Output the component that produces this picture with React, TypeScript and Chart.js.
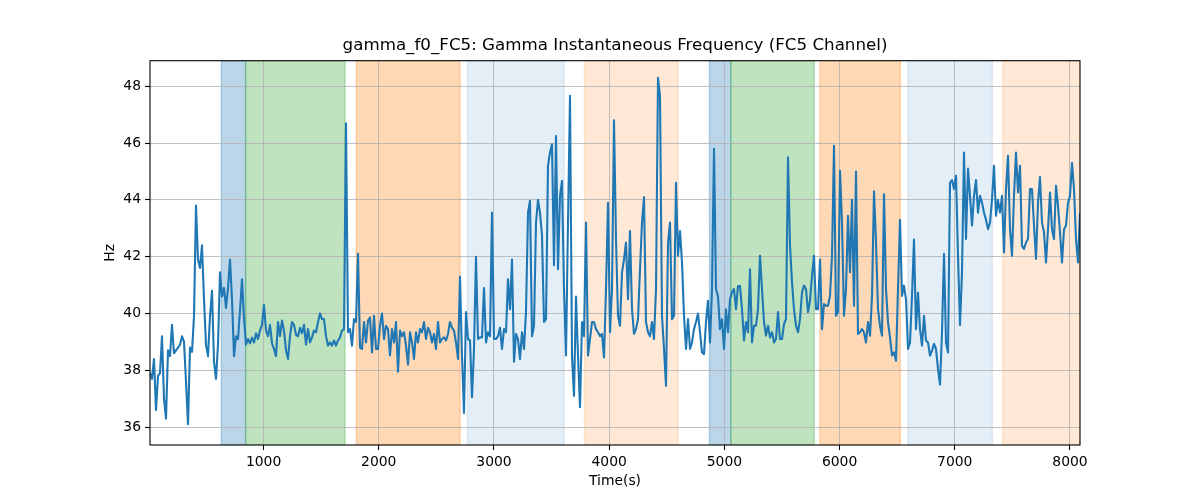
import { useEffect, useRef } from "react";
import { Chart, registerables } from "chart.js";
import type { Plugin } from "chart.js";

Chart.register(...registerables);

const chartTitle = "gamma_f0_FC5: Gamma Instantaneous Frequency (FC5 Channel)";
const xAxisLabel = "Time(s)";
const yAxisLabel = "Hz";

// readings are evenly spaced in time between the first and the last sample
const timeStart = 14;
const timeEnd = 8087;

const gammaHz = [
  // 14 - 1370 s
  37.9, 37.7, 38.4, 36.6, 37.8, 37.9, 39.2, 37.0, 36.3, 38.7, 38.5, 39.6, 38.6, 38.7, 38.8, 38.9,
  39.2, 39.0, 37.6, 36.1, 38.8, 38.65, 39.9, 43.8, 41.9, 41.6, 42.4, 40.5, 38.9, 38.5, 39.9, 40.8,
  38.3, 37.7, 38.9, 41.45, 40.6, 40.9, 40.2, 40.9, 41.9, 40.5, 38.5, 39.2, 39.1, 40.1, 41.2, 39.8,
  38.9, 39.1, 38.95, 39.15, 38.98, 39.3, 39.1, 39.4, 39.6, 40.3, 39.4, 39.2, 39.6, 38.95, 38.75,
  38.5, 39.7, 39.2, 39.75, 39.4, 38.7, 38.4, 39.2, 39.7, 39.6, 39.25, 39.2, 39.5, 39.3, 39.6, 38.9,
  // 1370 - 2710 s
  39.45, 38.98, 39.16, 39.4, 39.34, 39.7, 40.0, 39.8, 39.8, 39.2, 38.87, 38.98, 38.87, 39.05,
  38.87, 39.05, 39.16, 39.4, 39.45, 46.7, 39.34, 39.45, 38.87, 39.8, 39.7, 42.1, 38.8, 38.75,
  39.7, 38.98, 39.75, 39.86, 38.63, 39.92, 38.75, 38.75, 39.57, 40.0, 39.1, 39.57, 39.45, 38.52,
  39.45, 38.98, 39.7, 37.95, 39.4, 39.2, 39.34, 38.87, 38.2, 39.34, 38.98, 38.4, 39.34, 38.98,
  39.45, 39.34, 39.7, 39.1, 39.5, 39.34, 38.98, 39.28, 38.75, 39.7, 38.98, 39.1, 39.16, 39.05,
  39.28, 39.7, 39.5, 39.4, 38.98, 38.4, 41.3, 38.52,
  // 2710 - 4030 s
  36.5, 40.05, 39.1, 39.05, 37.05, 38.75, 42.0, 39.1, 39.16, 39.16, 40.9, 38.98, 39.34, 39.2,
  43.55, 39.1, 39.1, 39.2, 39.5, 38.75, 39.45, 39.34, 41.2, 40.15, 41.9, 38.3, 39.28, 39.1, 38.4,
  39.34, 38.75, 40.05, 43.55, 43.97, 39.2, 39.57, 43.2, 44.0, 43.55, 42.75, 39.7, 39.8, 45.2,
  45.67, 45.96, 41.7, 46.25, 41.56, 44.14, 44.67, 40.86, 38.52, 43.2, 47.66, 38.5, 37.1, 40.6,
  38.52, 36.7, 39.7, 39.2, 43.2, 38.52, 39.1, 39.7, 39.7, 39.45, 39.34, 39.2, 39.28, 38.45, 40.86,
  43.9, 39.34, 40.86, 46.8, 42.6,
  // 4030 - 5370 s
  39.92, 39.57, 41.45, 41.9, 42.5, 40.5, 42.9, 40.15, 39.28, 39.45, 39.8, 41.56, 43.2, 44.1, 39.7,
  39.34, 39.2, 39.7, 39.1, 40.86, 48.3, 47.66, 39.92, 38.75, 37.46, 42.5, 43.2, 39.8, 39.92, 44.6,
  42.03, 42.9, 41.8, 39.92, 38.75, 39.8, 38.75, 38.98, 39.45, 39.7, 40.0, 39.34, 38.63, 38.57,
  39.7, 40.45, 38.98, 40.86, 45.8, 40.86, 40.6, 39.45, 39.8, 38.75, 40.15, 39.34, 40.5, 40.75,
  40.86, 40.15, 40.97, 40.97, 40.15, 39.05, 39.7, 39.34, 41.56, 38.98, 39.57, 39.57, 40.15, 42.03,
  40.86, 39.7, 39.22, 39.57, 39.16, 39.34,
  // 5370 - 6700 s
  38.98, 39.1, 40.05, 39.1, 39.1, 39.63, 39.8, 45.5, 42.4, 41.1, 40.15, 39.57, 39.34, 39.8, 40.74,
  40.98, 40.86, 40.05, 40.45, 41.33, 42.03, 40.15, 40.15, 41.9, 39.45, 40.33, 40.27, 40.27, 40.62,
  42.03, 45.9, 39.92, 40.05, 45.02, 43.2, 39.92, 40.86, 43.44, 41.45, 44.0, 40.27, 45.0, 39.28,
  39.34, 39.45, 39.34, 38.98, 39.7, 39.22, 40.6, 44.3, 42.5, 40.15, 39.57, 39.22, 44.2, 40.86,
  39.7, 39.16, 38.52, 38.63, 38.34, 40.86, 43.3, 40.62, 40.98, 40.5, 38.75, 38.98, 40.62, 42.6,
  39.45, 40.74, 39.45, 38.87, 39.92, 39.05,
  // 6700 - 8087 s
  38.98, 38.52, 38.69, 38.93, 38.75, 38.05, 37.5, 39.34, 42.1, 38.98, 38.63, 44.6, 44.7, 44.38,
  44.85, 42.03, 39.6, 41.45, 45.67, 42.62, 45.1, 44.14, 43.1, 44.14, 44.7, 43.55, 44.14, 43.9,
  43.55, 43.3, 42.97, 43.2, 44.0, 45.2, 43.44, 44.0, 43.55, 44.14, 42.15, 44.38, 45.55, 42.96,
  42.03, 44.14, 45.67, 44.26, 45.2, 42.38, 42.27, 42.5, 42.62, 44.38, 44.38, 43.1, 41.92, 43.9,
  44.8, 43.2, 42.85, 41.8, 42.96, 44.26, 42.96, 42.62, 44.5, 43.8, 42.85, 41.8, 42.96, 43.1, 43.9,
  44.14, 45.3, 44.38, 42.62, 41.8, 43.55
];

const xTicks = [1000, 2000, 3000, 4000, 5000, 6000, 7000, 8000];
const yTicks = [36, 38, 40, 42, 44, 46, 48];
const yMin = 35.37;
const yMax = 48.9;

// shaded phases (seconds) and which kind each one is
const phaseStarts = [633, 844, 1805, 2769, 3785, 4871, 5056, 5829, 6593, 7416];
const phaseEnds = [844, 1707, 2706, 3609, 4599, 5056, 5780, 6527, 7326, 8087];
const phaseKinds = [0, 1, 2, 3, 4, 0, 1, 2, 3, 4];

const phaseFills = [
  "rgba(31, 119, 180, 0.3)",
  "rgba(44, 160, 44, 0.3)",
  "rgba(255, 127, 14, 0.3)",
  "rgba(31, 119, 180, 0.12)",
  "rgba(255, 127, 14, 0.17)"
];

const phasePlugin: Plugin<"line"> = {
  id: "phases",
  beforeDraw(chart) {
    const { ctx, chartArea, scales } = chart;
    const x = scales.x;
    ctx.save();
    ctx.beginPath();
    ctx.rect(chartArea.left, chartArea.top, chartArea.width, chartArea.height);
    ctx.clip();
    phaseStarts.forEach((start, i) => {
      const left = x.getPixelForValue(start);
      const right = x.getPixelForValue(phaseEnds[i]);
      const fill = phaseFills[phaseKinds[i]];
      ctx.fillStyle = fill;
      ctx.strokeStyle = fill;
      ctx.lineWidth = 1.4;
      ctx.fillRect(left, chartArea.top, right - left, chartArea.height);
      ctx.strokeRect(left, chartArea.top, right - left, chartArea.height);
    });
    ctx.restore();
  }
};

// frame on all four sides plus a title centred over the plot area
const framePlugin: Plugin<"line"> = {
  id: "frame",
  afterDraw(chart) {
    const { ctx, chartArea } = chart;
    ctx.save();
    ctx.strokeStyle = "#000";
    ctx.lineWidth = 1.1;
    ctx.strokeRect(chartArea.left, chartArea.top, chartArea.width, chartArea.height);
    ctx.fillStyle = "#000";
    ctx.font = "16.7px 'DejaVu Sans', sans-serif";
    ctx.textAlign = "center";
    ctx.textBaseline = "middle";
    ctx.fillText(chartTitle, (chartArea.left + chartArea.right) / 2, 46);
    ctx.restore();
  }
};

export default function App() {
  const canvasRef = useRef<HTMLCanvasElement | null>(null);

  useEffect(() => {
    document.body.style.margin = "0";
    const canvas = canvasRef.current;
    if (!canvas) return;

    Chart.defaults.font.family = "'DejaVu Sans', sans-serif";
    Chart.defaults.color = "#000";

    const step = (timeEnd - timeStart) / (gammaHz.length - 1);
    const points = gammaHz.map((hz, i) => ({ x: timeStart + i * step, y: hz }));

    const chart = new Chart(canvas, {
      type: "line",
      data: {
        datasets: [
          {
            label: "gamma_f0_FC5",
            data: points,
            borderColor: "#1f77b4",
            borderWidth: 2.1,
            borderJoinStyle: "round",
            pointRadius: 0,
            tension: 0
          }
        ]
      },
      options: {
        responsive: false,
        animation: false,
        events: [],
        layout: { padding: { left: 0, right: 120, top: 60.7, bottom: 0 } },
        plugins: {
          legend: { display: false },
          tooltip: { enabled: false },
          title: { display: false }
        },
        scales: {
          x: {
            type: "linear",
            min: timeStart,
            max: timeEnd,
            afterBuildTicks: (scale) => {
              scale.ticks = xTicks.map((value) => ({ value }));
            },
            afterFit: (scale) => {
              scale.height = 55;
            },
            ticks: {
              callback: (value) => String(value),
              font: { size: 13.9 },
              color: "#000",
              padding: 4,
              maxRotation: 0,
              autoSkip: false
            },
            grid: {
              color: "#b0b0b0",
              lineWidth: 0.8,
              drawTicks: true,
              tickLength: 5,
              tickColor: "#000",
              tickWidth: 1.1
            },
            border: { display: false },
            title: {
              display: true,
              text: xAxisLabel,
              color: "#000",
              font: { size: 13.9 },
              padding: { top: 0, bottom: 10.7 }
            }
          },
          y: {
            type: "linear",
            min: yMin,
            max: yMax,
            afterBuildTicks: (scale) => {
              scale.ticks = yTicks.map((value) => ({ value }));
            },
            afterFit: (scale) => {
              scale.width = 150;
            },
            ticks: {
              callback: (value) => String(value),
              font: { size: 13.9 },
              color: "#000",
              padding: 4
            },
            grid: {
              color: "#b0b0b0",
              lineWidth: 0.8,
              drawTicks: true,
              tickLength: 5,
              tickColor: "#000",
              tickWidth: 1.1
            },
            border: { display: false },
            title: {
              display: true,
              text: yAxisLabel,
              color: "#000",
              font: { size: 13.9 },
              padding: { top: 101.7, bottom: 0 }
            }
          }
        }
      },
      plugins: [phasePlugin, framePlugin]
    });

    return () => chart.destroy();
  }, []);

  return (
    <div style={{ width: 1200, height: 500, background: "#fff" }}>
      <canvas ref={canvasRef} width={1200} height={500} role="img" aria-label={chartTitle} />
    </div>
  );
}
